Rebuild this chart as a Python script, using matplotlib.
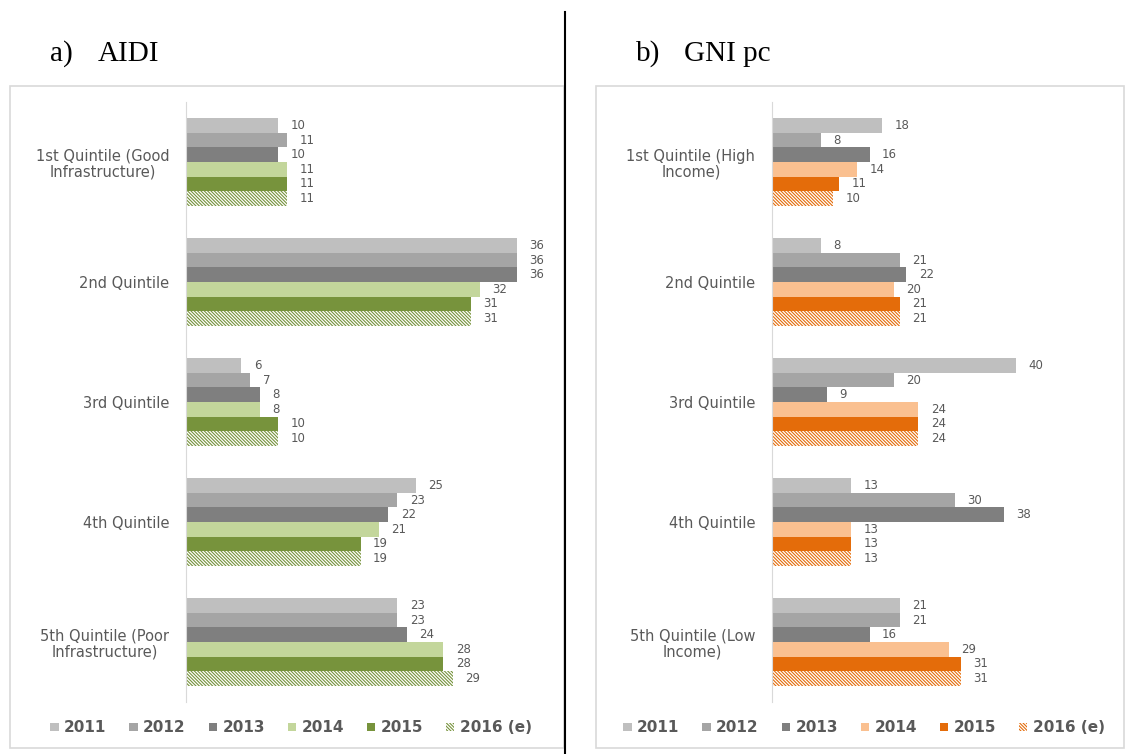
import numpy as np
import matplotlib.pyplot as plt
from matplotlib.patches import Patch, Rectangle
from matplotlib.lines import Line2D

years = ['2011', '2012', '2013', '2014', '2015', '2016 (e)']

aidi_cats = ['1st Quintile (Good\nInfrastructure)', '2nd Quintile', '3rd Quintile',
             '4th Quintile', '5th Quintile (Poor\nInfrastructure)']
aidi_2011 = [10, 36, 6, 25, 23]
aidi_2012 = [11, 36, 7, 23, 23]
aidi_2013 = [10, 36, 8, 22, 24]
aidi_2014 = [11, 32, 8, 21, 28]
aidi_2015 = [11, 31, 10, 19, 28]
aidi_2016 = [11, 31, 10, 19, 29]

gni_cats = ['1st Quintile (High\nIncome)', '2nd Quintile', '3rd Quintile',
            '4th Quintile', '5th Quintile (Low\nIncome)']
gni_2011 = [18, 8, 40, 13, 21]
gni_2012 = [8, 21, 20, 30, 21]
gni_2013 = [16, 22, 9, 38, 16]
gni_2014 = [14, 20, 24, 13, 29]
gni_2015 = [11, 21, 24, 13, 31]
gni_2016 = [10, 21, 24, 13, 31]

grey = '#595959'
hatch = '\\' * 10
plt.rcParams['font.family'] = ['DejaVu Sans']
plt.rcParams['hatch.linewidth'] = 0.8

W, H = 1128, 754
fig = plt.figure(figsize=(W / 100, H / 100), dpi=100)


def fx(px):
    return px / W


def fy(py):
    return 1 - py / H


def panel(x0, x1, zero_px, px_per_unit, cats, series, colors, hatch_col, tag, name):
    # light frame round the panel
    fig.add_artist(Rectangle((fx(x0), fy(748)), fx(x1 - x0), (748 - 86) / H,
                             transform=fig.transFigure, fill=False,
                             edgecolor='#d9d9d9', linewidth=1.2))
    fig.text(fx(x0 + 40), fy(61), tag, fontsize=21, family='Liberation Serif',
             va='baseline', ha='left')
    fig.text(fx(x0 + 88), fy(61), name, fontsize=21, family='Liberation Serif',
             va='baseline', ha='left')

    xmax = 42 if px_per_unit > 8 else 55
    ax = fig.add_axes([fx(zero_px), fy(702), fx(xmax * px_per_unit), 600 / H])
    n = len(cats)
    bh = 0.1222
    for i, vals in enumerate(series):
        ypos = np.arange(n) + (i - 2.5) * bh
        if i == 5:
            bars = ax.barh(ypos, vals, height=bh, facecolor='white',
                           edgecolor=hatch_col, linewidth=0, hatch=hatch)
        else:
            bars = ax.barh(ypos, vals, height=bh, color=colors[i], linewidth=0)
        for b, v in zip(bars, vals):
            ax.annotate(str(v), (b.get_width(), b.get_y() + b.get_height() / 2),
                        xytext=(9, 0), textcoords='offset points',
                        va='center', ha='left', fontsize=8.5, color=grey)
    ax.set_ylim(n - 0.5, -0.5)
    ax.set_xlim(0, xmax)
    ax.set_yticks(range(n))
    ax.set_yticklabels(cats, fontsize=10.5, color=grey, multialignment='center',
                       linespacing=1.05)
    ax.tick_params(axis='y', length=0, pad=12)
    ax.set_xticks([])
    for s in ['top', 'right', 'bottom']:
        ax.spines[s].set_visible(False)
    ax.spines['left'].set_color('#d9d9d9')

    handles = [Patch(facecolor=c, edgecolor='none') for c in colors[:5]]
    handles.append(Patch(facecolor='white', edgecolor=hatch_col, linewidth=0,
                         hatch=hatch))
    leg = fig.legend(handles, years, loc='center', ncol=6, frameon=False,
                     bbox_to_anchor=(fx((x0 + x1) / 2 + 4), fy(728)),
                     handlelength=0.55, handleheight=0.45, handletextpad=0.35,
                     columnspacing=1.5, prop={'size': 11, 'weight': 'bold'})
    for t in leg.get_texts():
        t.set_color(grey)


panel(10, 564, 186, 9.19, aidi_cats,
      [aidi_2011, aidi_2012, aidi_2013, aidi_2014, aidi_2015, aidi_2016],
      ['#bfbfbf', '#a5a5a5', '#7f7f7f', '#c3d69b', '#77933c'], '#77933c',
      'a)', 'AIDI')
panel(596, 1124, 772, 6.1, gni_cats,
      [gni_2011, gni_2012, gni_2013, gni_2014, gni_2015, gni_2016],
      ['#bfbfbf', '#a5a5a5', '#7f7f7f', '#fac090', '#e46c0a'], '#e46c0a',
      'b)', 'GNI pc')

# divider between the two panels
fig.add_artist(Line2D([fx(565), fx(565)], [fy(12), fy(754)],
                      transform=fig.transFigure, color='black', linewidth=1.5))

fig.savefig('out.png', dpi=100)
